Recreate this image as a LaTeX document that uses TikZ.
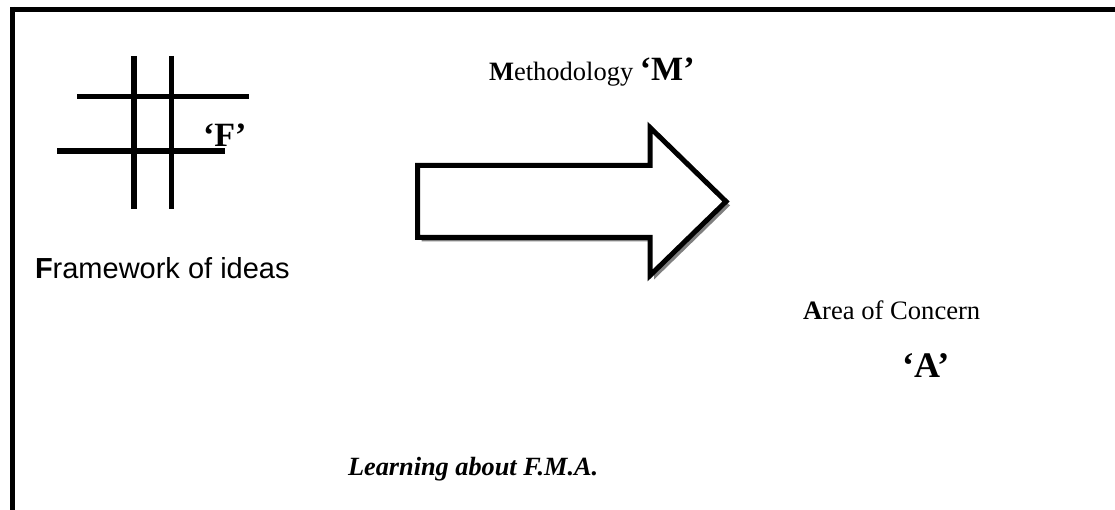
\documentclass[tikz,border=0pt]{standalone}
\usepackage{fontspec}
\setmainfont{Liberation Serif}
\newfontfamily\arialfont{Liberation Sans}
\begin{document}
\begin{tikzpicture}[x=1pt,y=-1pt,
  label/.style={inner sep=0pt, outer sep=0pt, anchor=base west},
  frameline/.style={line width=5pt},
  gridline/.style={line width=5.5pt},
  arrowshape/.style={line width=5pt, draw=black, fill=white, line join=miter},
  shadowshape/.style={fill=black!50}]
\useasboundingbox (0,0) rectangle (1115,510);

% open frame: top edge and left edge
\draw[frameline] (12,9.5) -- (1115,9.5);
\draw[frameline] (12,7) -- (12,510);

% framework grid
\draw[gridline] (134,56) -- (134,209);
\draw[gridline] (171.5,56) -- (171.5,209);
\draw[gridline] (77,96.5) -- (249,96.5);
\draw[gridline] (57,151) -- (225,151);

\node[label] (F) at (203,147) {\fontsize{34}{40}\selectfont\bfseries ‘F’};
\node[label] (framework) at (35,278.5) {\arialfont\fontsize{29}{34}\selectfont\textbf{F}ramework of ideas};

% block arrow with drop shadow
\fill[shadowshape] ([shift={(4,4)}]417.5,165.5) -- ([shift={(4,4)}]650,165.5) -- ([shift={(4,4)}]650,127.5)
  -- ([shift={(4,4)}]726,201.5) -- ([shift={(4,4)}]650,275.5) -- ([shift={(4,4)}]650,237.5)
  -- ([shift={(4,4)}]417.5,237.5) -- cycle;
\draw[arrowshape] (417.5,165.5) -- (650,165.5) -- (650,127.5) -- (726,201.5)
  -- (650,275.5) -- (650,237.5) -- (417.5,237.5) -- cycle;

\node[label] (M) at (489,80.5) {\fontsize{26.5}{32}\selectfont\textbf{M}ethodology \fontsize{34}{40}\selectfont\bfseries ‘M’};

\node[label] (area) at (803,319) {\fontsize{26.6}{32}\selectfont\textbf{A}rea of Concern};
\node[label] (A) at (902,377) {\fontsize{36}{42}\selectfont\bfseries ‘A’};

\node[label] (learning) at (348,475) {\fontsize{26.3}{32}\selectfont\bfseries\itshape Learning about F.M.A.};
\end{tikzpicture}
\end{document}
